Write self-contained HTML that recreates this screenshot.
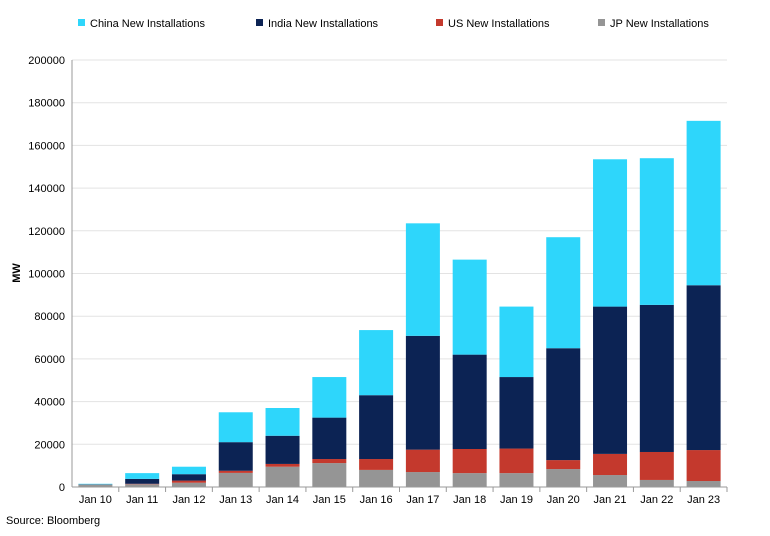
<!DOCTYPE html>
<html><head><meta charset="utf-8"><style>
body{margin:0;background:#fff;font-family:"Liberation Sans",Arial,sans-serif}
svg text{font-family:"Liberation Sans",Arial,sans-serif;fill:#000}
</style></head><body>
<svg width="770" height="531">
<g id="grid"></g><g id="bars"></g><g id="axes"></g>
<g font-size="11">
<rect x="78" y="19" width="7" height="7" fill="#2ed6fb"/><text x="90" y="27">China New Installations</text>
<rect x="256" y="19" width="7" height="7" fill="#0c2354"/><text x="268" y="27">India New Installations</text>
<rect x="436" y="19" width="7" height="7" fill="#c4392d"/><text x="448" y="27">US New Installations</text>
<rect x="598" y="19" width="7" height="7" fill="#959595"/><text x="610" y="27">JP New Installations</text>
</g>
<text x="20" y="273" font-size="11" font-weight="bold" transform="rotate(-90 20 273)" text-anchor="middle">MW</text>
<text x="6" y="524" font-size="11">Source: Bloomberg</text>
</svg>
<script>
const categories=["Jan 10","Jan 11","Jan 12","Jan 13","Jan 14","Jan 15","Jan 16","Jan 17","Jan 18","Jan 19","Jan 20","Jan 21","Jan 22","Jan 23"];
const jp=[1000,1300,2000,6600,9500,11200,8000,7000,6500,6500,8400,5600,3300,2800];
const us=[100,200,1000,1000,1300,1900,5100,10500,11300,11500,4200,9900,13100,14500];
const india=[100,2300,3000,13400,13200,19400,29900,53300,44200,33500,52400,69000,68900,77200];
const china=[300,2700,3500,14000,13000,19000,30500,52700,44500,33000,52000,69000,68700,77000];
const yTicks=[0,20000,40000,60000,80000,100000,120000,140000,160000,180000,200000];
const NS="http://www.w3.org/2000/svg";
const x0=72,x1=727,yb=487,yt=60,ymax=200000;
const y=v=>yb-(v/ymax)*(yb-yt);
const step=(x1-x0)/categories.length;
const xc=i=>x0+step*(i+0.5);
function mk(t,a,p){const e=document.createElementNS(NS,t);for(const k in a)e.setAttribute(k,a[k]);p.appendChild(e);return e;}
const grid=document.getElementById('grid'),bars=document.getElementById('bars'),axes=document.getElementById('axes');
yTicks.forEach(v=>{
 const l=mk('line',{x1:x0,x2:x1,y1:y(v),y2:y(v),stroke:'#e3e3e3'},grid);
 
 
 const t=mk('text',{x:65,y:y(v)+4,'text-anchor':'end','font-size':'11'},axes);
 t.textContent=v;
 
 
});
mk('line',{x1:x0,x2:x0,y1:yt,y2:yb,stroke:'#999'},axes);
mk('line',{x1:x0,x2:x1,y1:yb,y2:yb,stroke:'#999'},axes);
const series=[[jp,'#959595','jp'],[us,'#c4392d','us'],[india,'#0c2354','india'],[china,'#2ed6fb','china']];
const bw=34;
categories.forEach((c,i)=>{
 let cum=0;
 series.forEach(([arr,col,nm])=>{
  const v=arr[i];
  const r=mk('rect',{x:xc(i)-bw/2,y:y(cum+v),width:bw,height:y(cum)-y(cum+v),fill:col},bars);
  
  
  cum+=v;
 });
 const t=mk('text',{x:xc(i),y:503,'text-anchor':'middle','font-size':'11'},axes);
 t.textContent=c;
 
 
 mk('line',{x1:x0+step*(i+1),x2:x0+step*(i+1),y1:yb,y2:yb+5,stroke:'#999'},axes);
});
</script>
</body></html>
